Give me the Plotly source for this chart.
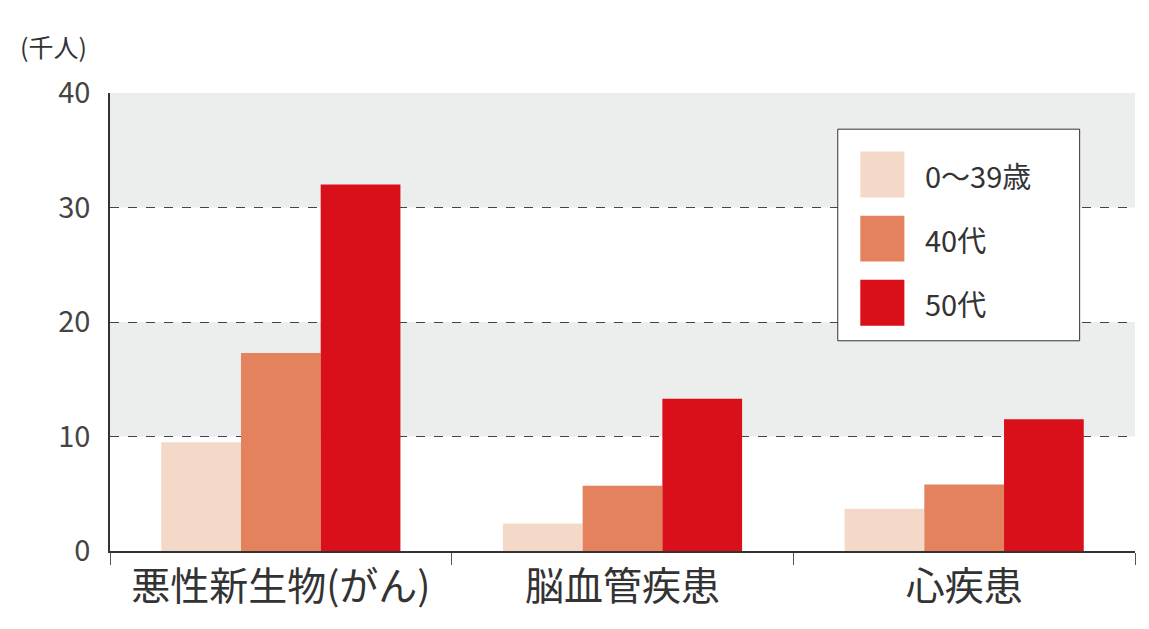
import plotly.graph_objects as go

categories = ["悪性新生物(がん)", "脳血管疾患", "心疾患"]
series_names = ["0～39歳", "40代", "50代"]
values_0_39 = [9.5, 2.4, 3.7]
values_40s = [17.3, 5.7, 5.8]
values_50s = [32.0, 13.3, 11.5]
colors = ["#f5d9c8", "#e5825e", "#d90f1a"]

font = "Noto Sans CJK JP"
fig = go.Figure()
for name, vals, col in zip(series_names, [values_0_39, values_40s, values_50s], colors):
    fig.add_trace(go.Bar(x=categories, y=vals, name=name, marker_color=col,
                         marker_line_width=0, showlegend=False))

# alternating background bands
for y0, y1 in [(10, 20), (30, 40)]:
    fig.add_shape(type="rect", xref="paper", yref="y", x0=0, x1=1, y0=y0, y1=y1,
                  fillcolor="#eceeed", line_width=0, layer="below")

# hand-drawn legend with large swatches
fig.add_shape(type="rect", xref="paper", yref="paper", x0=0.71, x1=0.946, y0=0.459, y1=0.921,
              line=dict(color="#333333", width=1), fillcolor="white")
for i, (name, col) in enumerate(zip(series_names, colors)):
    yc = 0.822 - i * 0.14
    fig.add_shape(type="rect", xref="paper", yref="paper", x0=0.732, x1=0.775,
                  y0=yc - 0.05, y1=yc + 0.05, fillcolor=col, line_width=0)
    fig.add_annotation(text=name, xref="paper", yref="paper", x=0.793, y=yc,
                       xanchor="left", yanchor="middle", showarrow=False,
                       font=dict(size=29, color="#333333"))

fig.add_annotation(text="(千人)", xref="paper", yref="paper", x=-0.09, y=1.06,
                   xanchor="left", yanchor="bottom", showarrow=False,
                   font=dict(size=25, color="#333333"))

fig.update_layout(
    width=1149, height=629,
    margin=dict(l=102, r=22, t=85, b=86, autoexpand=False),
    plot_bgcolor="white", paper_bgcolor="white",
    barmode="group", bargap=0.3, bargroupgap=0,
    font=dict(family=font, color="#333333"),
)
fig.update_xaxes(showline=True, linecolor="#333333", linewidth=1.5,
                 ticks="outside", tickson="boundaries", ticklen=12, tickcolor="#555555",
                 tickfont=dict(size=39, color="#333333"), automargin=False)
fig.update_yaxes(range=[0, 40], dtick=10, showline=True, linecolor="#333333",
                 linewidth=1.5, showgrid=True, gridcolor="#444444", griddash="dash",
                 gridwidth=1, zeroline=False, ticks="", ticklabelstandoff=12,
                 tickfont=dict(size=29, color="#444444"), automargin=False,
                 layer="above traces")
fig.write_html("out.html")
